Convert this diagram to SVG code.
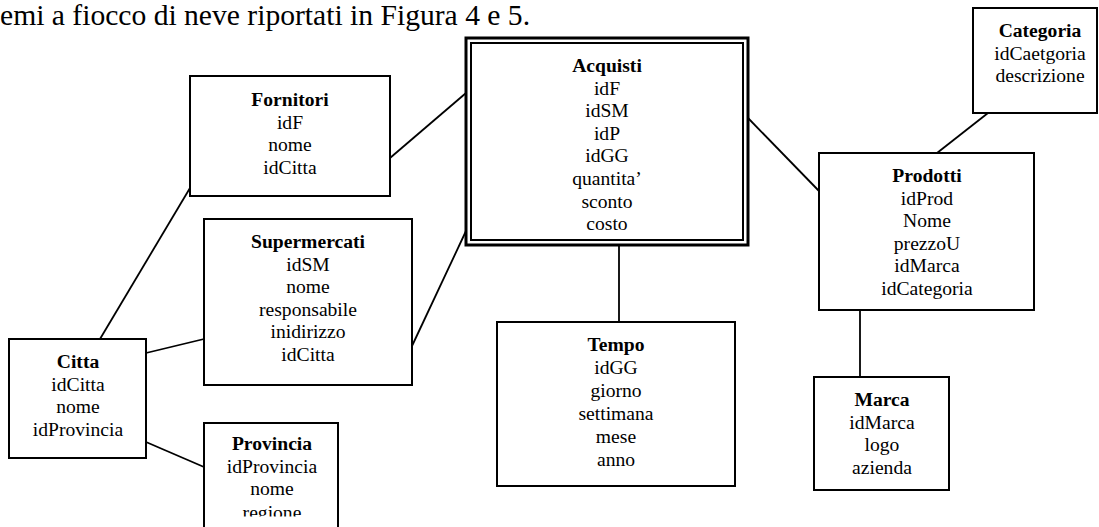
<svg xmlns="http://www.w3.org/2000/svg" width="1099" height="527" viewBox="0 0 1099 527">
<style>
.box{fill:#fff;stroke:#000;stroke-width:2}
.t{font-family:"Liberation Serif","Times New Roman",serif;font-size:19.6px;text-anchor:middle;fill:#000}
.b{font-weight:bold}
.hdr{font-family:"Liberation Serif","Times New Roman",serif;font-size:29.6px;fill:#000}
.c{stroke:#000;stroke-width:1.8;fill:none}
</style>
<defs>
<clipPath id="provClip"><rect x="190" y="400" width="170" height="116.5"/></clipPath>
</defs>
<rect width="1099" height="527" fill="#fff"/>
<text class="hdr" x="0" y="25">emi a fiocco di neve riportati in Figura 4 e 5.</text>
<g id="connectors">
<line class="c" x1="390" y1="158" x2="466" y2="93"/>
<line class="c" x1="412" y1="346" x2="466" y2="231"/>
<line class="c" x1="190" y1="188" x2="100" y2="339"/>
<line class="c" x1="146" y1="353" x2="204" y2="339"/>
<line class="c" x1="146" y1="442" x2="204" y2="467"/>
<line class="c" x1="619" y1="245" x2="619" y2="322"/>
<line class="c" x1="748" y1="118" x2="819" y2="191"/>
<line class="c" x1="988" y1="113" x2="937" y2="153"/>
<line class="c" x1="860" y1="310" x2="860" y2="377"/>
</g>
<g id="acquisti">
<rect x="466" y="38" width="282" height="207" fill="#fff" stroke="#000" stroke-width="3"/>
<rect x="471" y="43" width="272" height="197" fill="none" stroke="#000" stroke-width="2"/>
<text class="t b" x="607" y="72">Acquisti</text>
<text class="t" x="607" y="94.6">idF</text>
<text class="t" x="607" y="117.2">idSM</text>
<text class="t" x="607" y="139.8">idP</text>
<text class="t" x="607" y="162.4">idGG</text>
<text class="t" x="607" y="185">quantita’</text>
<text class="t" x="607" y="207.6">sconto</text>
<text class="t" x="607" y="230.2">costo</text>
</g>
<g id="fornitori">
<rect class="box" x="190" y="76" width="200" height="120"/>
<text class="t b" x="290" y="106">Fornitori</text>
<text class="t" x="290" y="128.6">idF</text>
<text class="t" x="290" y="151.2">nome</text>
<text class="t" x="290" y="173.8">idCitta</text>
</g>
<g id="supermercati">
<rect class="box" x="204" y="219" width="208" height="166"/>
<text class="t b" x="308" y="248">Supermercati</text>
<text class="t" x="308" y="270.6">idSM</text>
<text class="t" x="308" y="293.2">nome</text>
<text class="t" x="308" y="315.8">responsabile</text>
<text class="t" x="308" y="338.4">inidirizzo</text>
<text class="t" x="308" y="361">idCitta</text>
</g>
<g id="citta">
<rect class="box" x="9" y="339" width="137" height="119"/>
<text class="t b" x="78" y="368">Citta</text>
<text class="t" x="78" y="390.6">idCitta</text>
<text class="t" x="78" y="413.2">nome</text>
<text class="t" x="78" y="435.8">idProvincia</text>
</g>
<g id="provincia">
<path d="M204,527 V423 H338 V527" fill="#fff" stroke="#000" stroke-width="2"/>
<g clip-path="url(#provClip)">
<text class="t b" x="272" y="450">Provincia</text>
<text class="t" x="272" y="472.6">idProvincia</text>
<text class="t" x="272" y="495.2">nome</text>
<text class="t" x="272" y="519">regione</text>
</g>
</g>
<g id="tempo">
<rect class="box" x="497" y="322" width="238" height="164"/>
<text class="t b" x="616" y="351">Tempo</text>
<text class="t" x="616" y="374">idGG</text>
<text class="t" x="616" y="397">giorno</text>
<text class="t" x="616" y="420">settimana</text>
<text class="t" x="616" y="443">mese</text>
<text class="t" x="616" y="466">anno</text>
</g>
<g id="prodotti">
<rect class="box" x="819" y="153" width="215" height="157"/>
<text class="t b" x="927" y="182">Prodotti</text>
<text class="t" x="927" y="204.6">idProd</text>
<text class="t" x="927" y="227.2">Nome</text>
<text class="t" x="927" y="249.8">prezzoU</text>
<text class="t" x="927" y="272.4">idMarca</text>
<text class="t" x="927" y="295">idCategoria</text>
</g>
<g id="categoria">
<rect class="box" x="973" y="8" width="124" height="105"/>
<text class="t b" x="1040" y="37">Categoria</text>
<text class="t" x="1040" y="59.6">idCaetgoria</text>
<text class="t" x="1040" y="82.2">descrizione</text>
</g>
<g id="marca">
<rect class="box" x="814" y="377" width="135" height="113"/>
<text class="t b" x="882" y="406">Marca</text>
<text class="t" x="882" y="428.6">idMarca</text>
<text class="t" x="882" y="451.2">logo</text>
<text class="t" x="882" y="473.8">azienda</text>
</g>
</svg>
